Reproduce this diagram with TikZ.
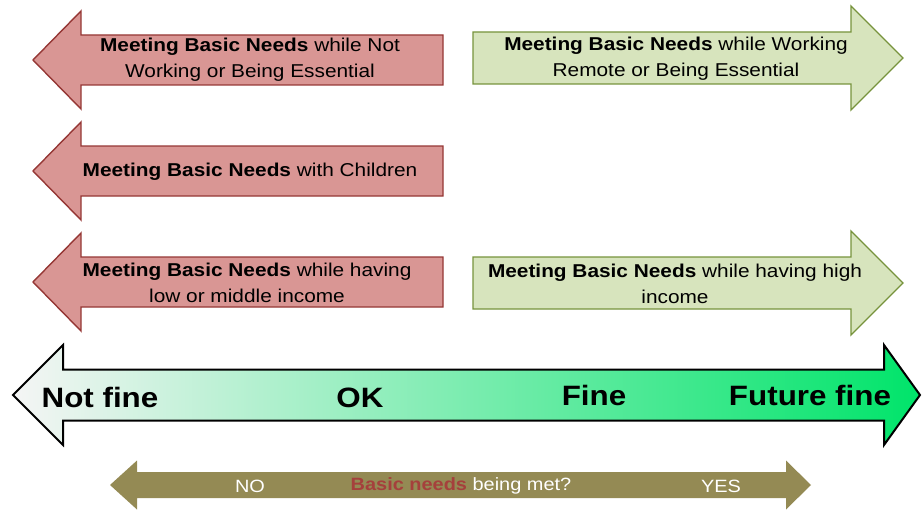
\documentclass[tikz,border=0pt]{standalone}
\usepackage{fontspec}
\setmainfont[FakeStretch=1.12]{Liberation Sans}
\usetikzlibrary{calc}

\definecolor{needred}{HTML}{D99694}
\definecolor{needredline}{HTML}{953735}
\definecolor{needgreen}{HTML}{D7E4BD}
\definecolor{needgreenline}{HTML}{77933C}
\definecolor{scaleolive}{HTML}{948A54}
\definecolor{basicred}{HTML}{A5403C}
\definecolor{finegreen}{HTML}{00E46A}

\begin{document}
\begin{tikzpicture}[
x=1pt, y=-1pt,
redarrow/.style={fill=needred, draw=needredline, line width=1.4pt, line join=miter},
greenarrow/.style={fill=needgreen, draw=needgreenline, line width=1.4pt, line join=miter},
scalearrow/.style={left color=gray!8, right color=finegreen, draw=black, line width=2pt, line join=miter},
olivearrow/.style={fill=scaleolive, draw=none},
need/.style={align=center, text=black, font=\fontsize{18.6}{26}\selectfont, inner sep=0pt},
level/.style={text=black, font=\fontsize{28}{32}\selectfont\bfseries, inner sep=0pt},
answer/.style={text=white, font=\fontsize{17.8}{20}\selectfont, inner sep=0pt}
]
\useasboundingbox (0,0) rectangle (922,511);

% arrows pointing left (red)
\foreach \y in {60,171,282}
{
	\draw[redarrow] (33,\y) -- (81,\y-49) -- (81,\y-25) -- (443,\y-25)
		-- (443,\y+25) -- (81,\y+25) -- (81,\y+49) -- cycle;
}
% arrows pointing right (green)
\foreach \y in {58,283}
{
	\draw[greenarrow] (903,\y) -- (851,\y-52) -- (851,\y-26) -- (473,\y-26)
		-- (473,\y+26) -- (851,\y+26) -- (851,\y+52) -- cycle;
}

% the scale
\draw[scalearrow] (13,395) -- (63,345) -- (63,369.5) -- (884,369.5) -- (884,345)
	-- (920,395) -- (884,445) -- (884,420.5) -- (63,420.5) -- (63,445) -- cycle;
\draw[olivearrow] (110,485) -- (137,460.5) -- (137,472) -- (786,472) -- (786,460.5)
	-- (811,485) -- (786,509.5) -- (786,498) -- (137,498) -- (137,509.5) -- cycle;

% texts
\node[need] (notworking) at (250,60) {\textbf{Meeting Basic Needs} while Not\\Working or Being Essential};
\node[need] (children) at (250,172) {\textbf{Meeting Basic Needs} with Children};
\node[need] (lowincome) at (247,283) {\textbf{Meeting Basic Needs} while having\\low or middle income};
\node[need] (remote) at (676,59) {\textbf{Meeting Basic Needs} while Working\\Remote or Being Essential};
\node[need] (highincome) at (675,284) {\textbf{Meeting Basic Needs} while having high\\income};

\node[level] (notfine) at (100,397) {Not fine};
\node[level] (ok) at (360,398) {OK};
\node[level] (fine) at (594,395) {Fine};
\node[level] (futurefine) at (810,395) {Future fine};

\node[answer] (no) at (250,486) {NO};
\node[answer] (question) at (461,486) {\textcolor{basicred}{\textbf{Basic needs}} being met?};
\node[answer] (yes) at (721,486) {YES};
\end{tikzpicture}
\end{document}
